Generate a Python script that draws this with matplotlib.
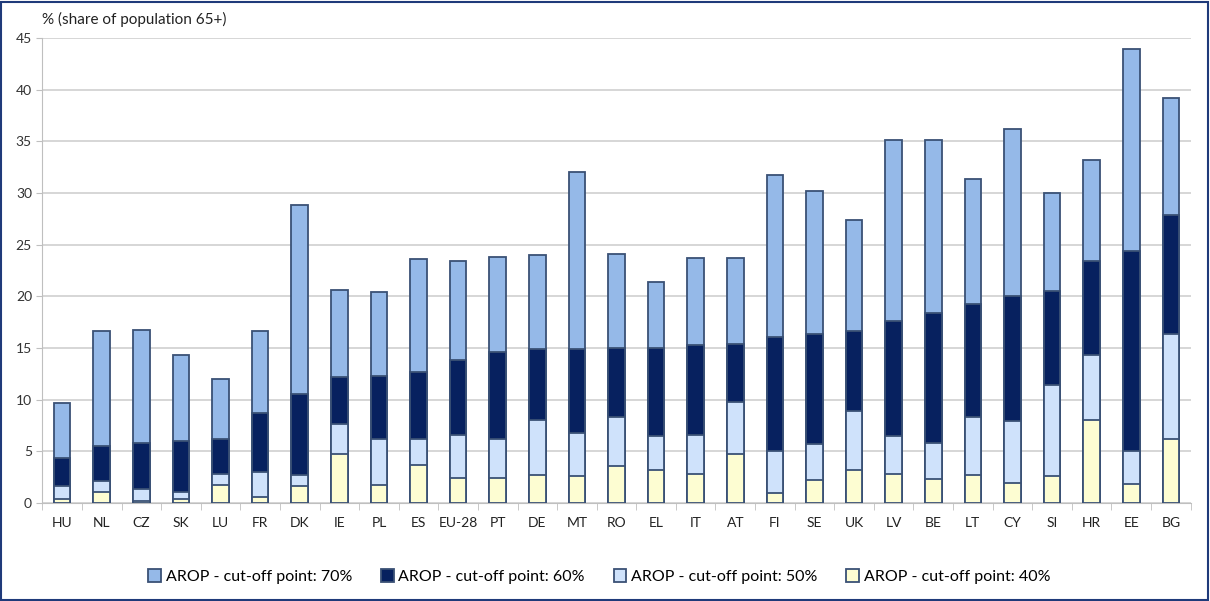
import numpy as np
import matplotlib
matplotlib.use('Agg')
import matplotlib.pyplot as plt
from matplotlib.patches import Rectangle

plt.rcParams['font.family'] = ['Lato', 'DejaVu Sans']

countries = ['HU', 'NL', 'CZ', 'SK', 'LU', 'FR', 'DK', 'IE', 'PL', 'ES', 'EU-28', 'PT', 'DE', 'MT', 'RO',
             'EL', 'IT', 'AT', 'FI', 'SE', 'UK', 'LV', 'BE', 'LT', 'CY', 'SI', 'HR', 'EE', 'BG']
arop70 = [9.7, 16.6, 16.7, 14.3, 12.0, 16.6, 28.8, 20.6, 20.4, 23.6, 23.4, 23.8, 24.0, 32.0, 24.1,
          21.4, 23.7, 23.7, 31.7, 30.2, 27.4, 35.1, 35.1, 31.3, 36.2, 30.0, 33.2, 43.9, 39.2]
arop60 = [4.4, 5.5, 5.8, 6.0, 6.2, 8.7, 10.5, 12.2, 12.3, 12.7, 13.8, 14.6, 14.9, 14.9, 15.0,
          15.0, 15.3, 15.4, 16.1, 16.4, 16.6, 17.6, 18.4, 19.3, 20.0, 20.5, 23.4, 24.4, 27.9]
arop50 = [1.6, 2.1, 1.4, 1.1, 2.8, 3.0, 2.7, 7.6, 6.2, 6.2, 6.6, 6.2, 8.0, 6.8, 8.3,
          6.5, 6.6, 9.8, 5.0, 5.7, 8.9, 6.5, 5.8, 8.3, 7.9, 11.4, 14.3, 5.0, 16.4]
arop40 = [0.4, 1.1, 0.2, 0.4, 1.7, 0.6, 1.6, 4.7, 1.7, 3.7, 2.4, 2.4, 2.7, 2.6, 3.6,
          3.2, 2.8, 4.7, 1.0, 2.2, 3.2, 2.8, 2.3, 2.7, 1.9, 2.6, 8.0, 1.8, 6.2]

series = [
    ('AROP - cut-off point: 70%', arop70, '#95b9e8'),
    ('AROP - cut-off point: 60%', arop60, '#07215f'),
    ('AROP - cut-off point: 50%', arop50, '#cfe2fb'),
    ('AROP - cut-off point: 40%', arop40, '#fdfdd2'),
]
edge = '#3a5175'

fig = plt.figure(figsize=(12.1, 6.01), dpi=100)
ax = fig.add_axes([0.035, 0.163, 0.949, 0.774])

x = np.arange(len(countries))
for label, vals, col in series:
    ax.bar(x, vals, width=0.42, color=col, edgecolor=edge, linewidth=1.3, label=label, zorder=3)

ax.set_xlim(-0.5, len(countries) - 0.5)
ax.set_ylim(0, 45)
ax.set_yticks(range(0, 46, 5))
ax.set_xticks(x)
ax.set_xticklabels(countries)
ax.set_xticks(np.arange(-0.5, len(countries), 1), minor=True)
ax.tick_params(axis='x', which='major', length=0, pad=10, labelsize=10, colors='#222222')
ax.tick_params(axis='x', which='minor', length=5, color='#bfbfbf')
ax.tick_params(axis='y', length=4, color='#bfbfbf', labelsize=10, labelcolor='#333333')
ax.grid(axis='y', color='#d0d0d0', linewidth=1.2, zorder=0)
for s in ['top', 'right']:
    ax.spines[s].set_visible(False)
ax.spines['left'].set_color('#bfbfbf')
ax.spines['bottom'].set_color('#bfbfbf')

fig.text(0.035, 0.955, '% (share of population 65+)', fontsize=11, color='#222222', va='bottom')

ax.legend(loc='upper center', bbox_to_anchor=(0.485, -0.11), ncol=4, frameon=False,
          fontsize=11.5, handlelength=0.8, handleheight=0.9, handletextpad=0.3, columnspacing=1.8)

fig.patches.append(Rectangle((0.001, 0.002), 0.997, 0.995, transform=fig.transFigure,
                             fill=False, edgecolor='#1f3a7a', linewidth=1.5))

plt.savefig('out.png', dpi=100)
